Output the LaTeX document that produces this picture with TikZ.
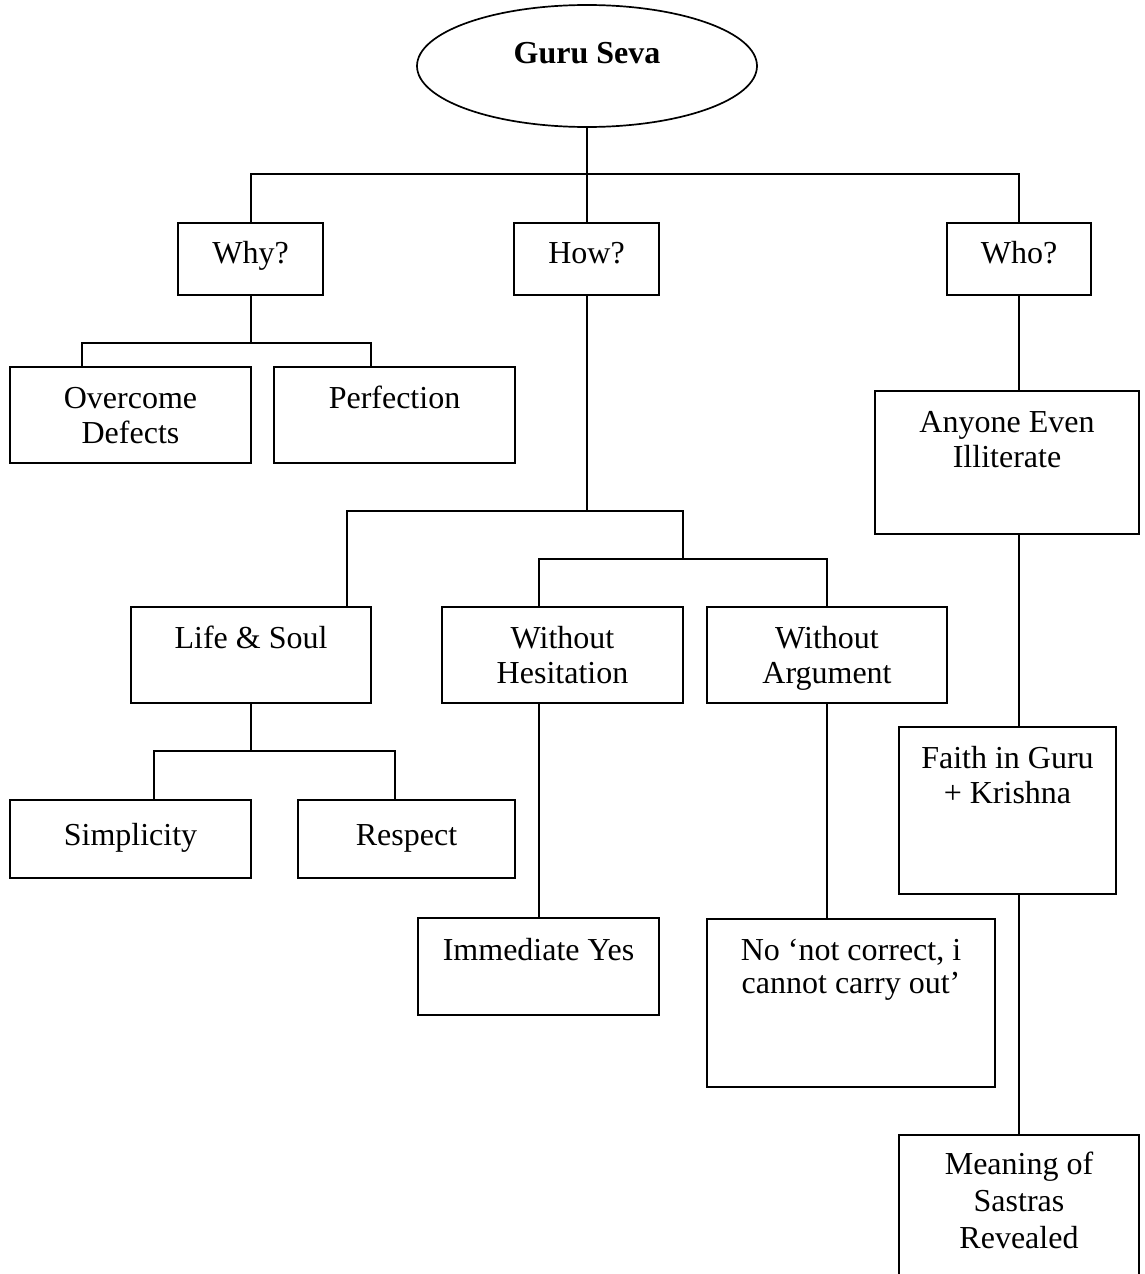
\documentclass[tikz,border=0pt]{standalone}
\usepackage{fontspec}
\setmainfont{Liberation Serif}
\usetikzlibrary{fit,shapes.geometric}

% centred stack of lines whose first baseline is the node's base
\newcommand\linesat[2][35]{{\fontsize{32}{#1}\selectfont\begin{tabular}[t]{@{}c@{}}#2\end{tabular}}}

\begin{document}
\begin{tikzpicture}[x=1pt,y=-1pt,line width=1.7pt,
  gbox/.style={draw,rectangle,inner sep=0pt},
  lbl/.style={anchor=base,inner sep=0pt,font=\fontsize{32}{35}\selectfont}]
\useasboundingbox (0,0) rectangle (1145,1274);
\clip (0,0) rectangle (1145,1274);

% root
\node[draw,ellipse,inner sep=0pt,minimum width=340pt,minimum height=122pt] (root) at (587,66) {};
\node[lbl,font=\fontsize{32}{35}\selectfont\bfseries] (root-t) at (587,63) {Guru Seva};

% boxes
\node[gbox,fit={(178,223)(323,295)}] (why) {};
\node[gbox,fit={(514,223)(659,295)}] (how) {};
\node[gbox,fit={(947,223)(1091,295)}] (who) {};
\node[gbox,fit={(10,367)(251,463)}] (over) {};
\node[gbox,fit={(274,367)(515,463)}] (perf) {};
\node[gbox,fit={(131,607)(371,703)}] (life) {};
\node[gbox,fit={(442,607)(683,703)}] (whes) {};
\node[gbox,fit={(707,607)(947,703)}] (warg) {};
\node[gbox,fit={(10,800)(251,878)}] (simp) {};
\node[gbox,fit={(298,800)(515,878)}] (resp) {};
\node[gbox,fit={(418,918)(659,1015)}] (yes) {};
\node[gbox,fit={(707,919)(995,1087)}] (nocar) {};
\node[gbox,fit={(875,391)(1139,534)}] (anyone) {};
\node[gbox,fit={(899,727)(1116,894)}] (faith) {};
\node[gbox,fit={(899,1135)(1139,1320)}] (meaning) {};

% labels
\node[lbl] (why-t) at (250.5,263) {Why?};
\node[lbl] (how-t) at (586.5,263) {How?};
\node[lbl] (who-t) at (1019,263) {Who?};
\node[lbl] (over-t) at (130.5,408) {\linesat{Overcome\\Defects}};
\node[lbl] (perf-t) at (394.5,408) {Perfection};
\node[lbl] (life-t) at (251,648) {Life \& Soul};
\node[lbl] (whes-t) at (562.5,648) {\linesat{Without\\Hesitation}};
\node[lbl] (warg-t) at (827,648) {\linesat{Without\\Argument}};
\node[lbl] (simp-t) at (130.5,845) {Simplicity};
\node[lbl] (resp-t) at (406.5,845) {Respect};
\node[lbl] (yes-t) at (538.5,960) {Immediate Yes};
\node[lbl] (nocar-t) at (851,960) {\linesat[33]{No ‘not correct, i\\cannot carry out’}};
\node[lbl] (anyone-t) at (1007,432) {\linesat{Anyone Even\\Illiterate}};
\node[lbl] (faith-t) at (1007.5,768) {\linesat{Faith in Guru\\+ Krishna}};
\node[lbl] (meaning-t) at (1019,1174) {\linesat[37]{Meaning of\\Sastras\\Revealed}};

% junctions
\coordinate (b0) at (587,174);
\coordinate (b1) at (251,343);
\coordinate (b1l) at (82,343);
\coordinate (b1r) at (371,343);
\coordinate (b2) at (587,511);
\coordinate (b2l) at (347,511);
\coordinate (b2r) at (683,511);
\coordinate (b3l) at (539,559);
\coordinate (b3r) at (827,559);
\coordinate (b4) at (251,751);
\coordinate (b4l) at (154,751);
\coordinate (b4r) at (395,751);

% connectors
\draw (root.south) -- (b0);
\draw (why.north -| b1) -- (b1 |- b0) -- (who.north |- b0) -- (who.north);
\draw (b0) -- (how.north -| b0);

\draw (why.south -| b1) -- (b1);
\draw (over.north -| b1l) -- (b1l) -- (b1r) -- (perf.north -| b1r);

\draw (how.south -| b2) -- (b2);
\draw (life.north -| b2l) -- (b2l) -- (b2r) -- (b2r |- b3l);
\draw (whes.north -| b3l) -- (b3l) -- (b3r) -- (warg.north -| b3r);

\draw (life.south -| b4) -- (b4);
\draw (simp.north -| b4l) -- (b4l) -- (b4r) -- (resp.north -| b4r);

\draw (whes.south -| b3l) -- (yes.north -| b3l);
\draw (warg.south -| b3r) -- (nocar.north -| b3r);

\draw (who.south) -- (anyone.north -| who.south);
\draw (anyone.south -| who.south) -- (faith.north -| who.south);
\draw (faith.south -| who.south) -- (meaning.north -| who.south);
\end{tikzpicture}
\end{document}
